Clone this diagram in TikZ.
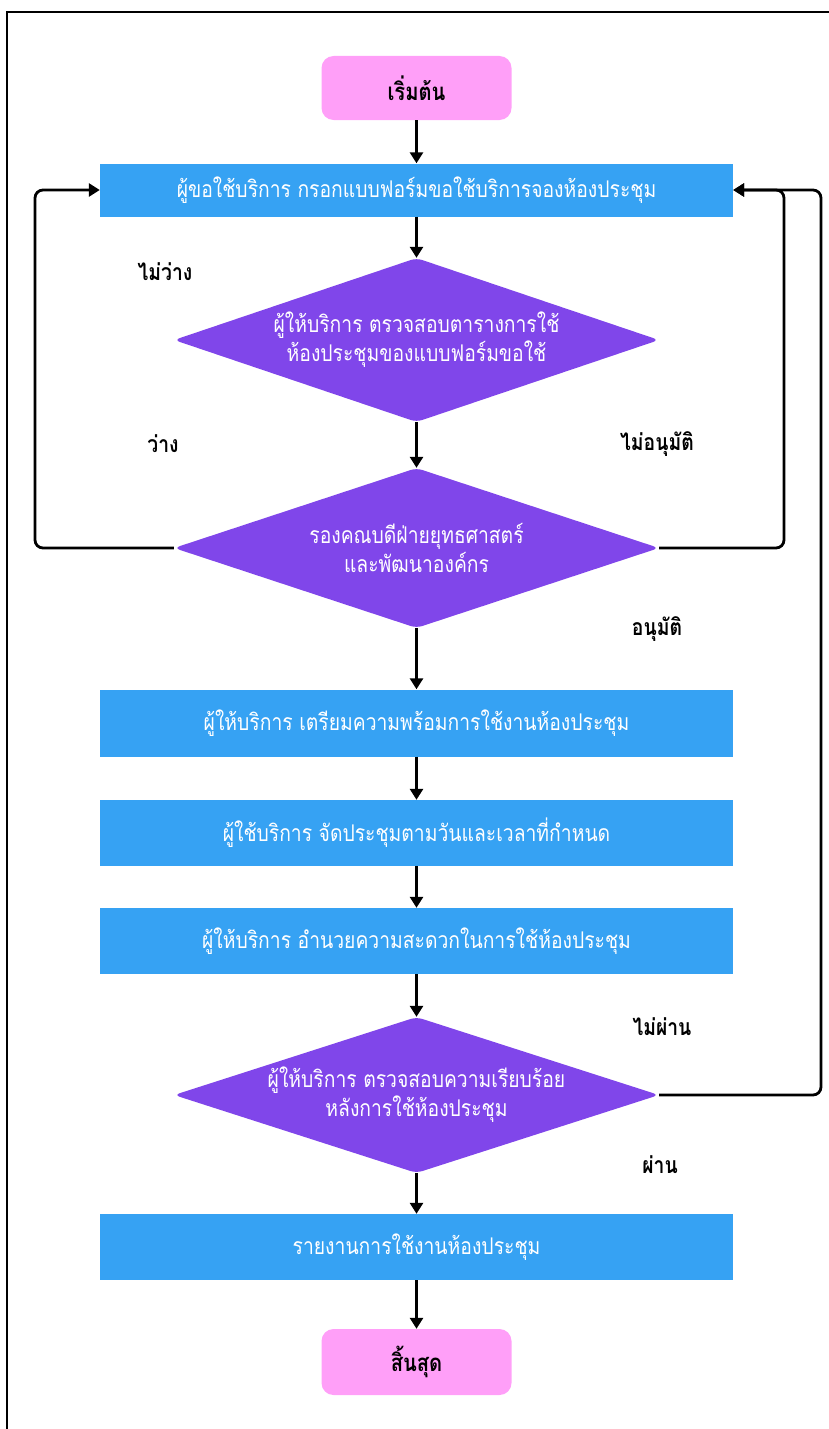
\documentclass[tikz,border=0pt]{standalone}
\usepackage{fontspec}
\newfontfamily\thai[Script=Thai,FakeStretch=0.84]{Loma}
\usetikzlibrary{arrows.meta,shapes.geometric}
\definecolor{pinkc}{HTML}{FF9FF8}
\definecolor{bluec}{HTML}{36A2F3}
\definecolor{purplec}{HTML}{8046EA}
\tikzset{
  term/.style={fill=pinkc, rounded corners=12pt, minimum width=190pt, minimum height=64pt, font=\thai\fontsize{24}{26}\selectfont\bfseries, text=black},
  proc/.style={fill=bluec, minimum width=633pt, minimum height=64pt, font=\thai\fontsize{23}{26}\selectfont, text=white},
  dec/.style={fill=purplec, shape=diamond, aspect=3, inner sep=0pt, rounded corners=6pt, minimum width=485pt, minimum height=160pt, font=\thai\fontsize{23}{29}\selectfont, text=white, align=center},
  lbl/.style={font=\thai\fontsize{23}{26}\selectfont\bfseries, text=black},
  arr/.style={line width=2.8pt, -{Triangle[length=11pt,width=13pt]}},
  loop/.style={line width=2.8pt, rounded corners=8pt, -{Triangle[length=11pt,width=13pt]}}
}
\begin{document}
\begin{tikzpicture}[x=1pt,y=-1pt]
\useasboundingbox (0,0) rectangle (829,1429);
\draw[line width=1.6pt] (7,1429) -- (7,12) -- (829,12);
\node[term] (start) at (416.5,88) {เริ่มต้น};
\node[proc, minimum height=53pt] (p1) at (416.5,190) {ผู้ขอใช้บริการ กรอกแบบฟอร์มขอใช้บริการจองห้องประชุม};
\node[dec, minimum height=164pt] (d1) at (416.5,340) {ผู้ให้บริการ ตรวจสอบตารางการใช้\\ห้องประชุมของแบบฟอร์มขอใช้};
\node[dec] (d2) at (416.5,548) {รองคณบดีฝ่ายยุทธศาสตร์\\และพัฒนาองค์กร};
\node[proc, minimum height=67pt] (p2) at (416.5,723) {ผู้ให้บริการ เตรียมความพร้อมการใช้งานห้องประชุม};
\node[proc, minimum height=66pt] (p3) at (416.5,833) {ผู้ใช้บริการ จัดประชุมตามวันและเวลาที่กำหนด};
\node[proc, minimum height=66pt] (p4) at (416.5,941) {ผู้ให้บริการ อำนวยความสะดวกในการใช้ห้องประชุม};
\node[dec, minimum height=156pt] (d3) at (416.5,1095) {ผู้ให้บริการ ตรวจสอบความเรียบร้อย\\หลังการใช้ห้องประชุม};
\node[proc, minimum height=66pt] (p5) at (416.5,1247) {รายงานการใช้งานห้องประชุม};
\node[term, minimum height=66pt] (end) at (416.5,1362) {สิ้นสุด};
\node[lbl] (l1) at (165,272) {ไม่ว่าง};
\node[lbl] (l2) at (163,444) {ว่าง};
\node[lbl] (l3) at (657,444) {ไม่อนุมัติ};
\node[lbl] (l4) at (657,629) {อนุมัติ};
\node[lbl] (l5) at (662,1027) {ไม่ผ่าน};
\node[lbl] (l6) at (660,1165) {ผ่าน};
\coordinate (lx) at (35,0);
\coordinate (rx1) at (784,0);
\coordinate (rx2) at (821,0);
\draw[arr] (start) -- (p1);
\draw[arr] (p1) -- (d1);
\draw[arr] (d1) -- (d2);
\draw[arr] (d2) -- (p2);
\draw[arr] (p2) -- (p3);
\draw[arr] (p3) -- (p4);
\draw[arr] (p4) -- (d3);
\draw[arr] (d3) -- (p5);
\draw[arr] (p5) -- (end);
\draw[loop] (d2.west) -| (lx |- p1) -- (p1.west);
\draw[loop] (d2.east) -| (rx1 |- p1) -- (p1.east);
\draw[loop] (d3.east) -| (rx2 |- p1) -- (p1.east);
\end{tikzpicture}
\end{document}
